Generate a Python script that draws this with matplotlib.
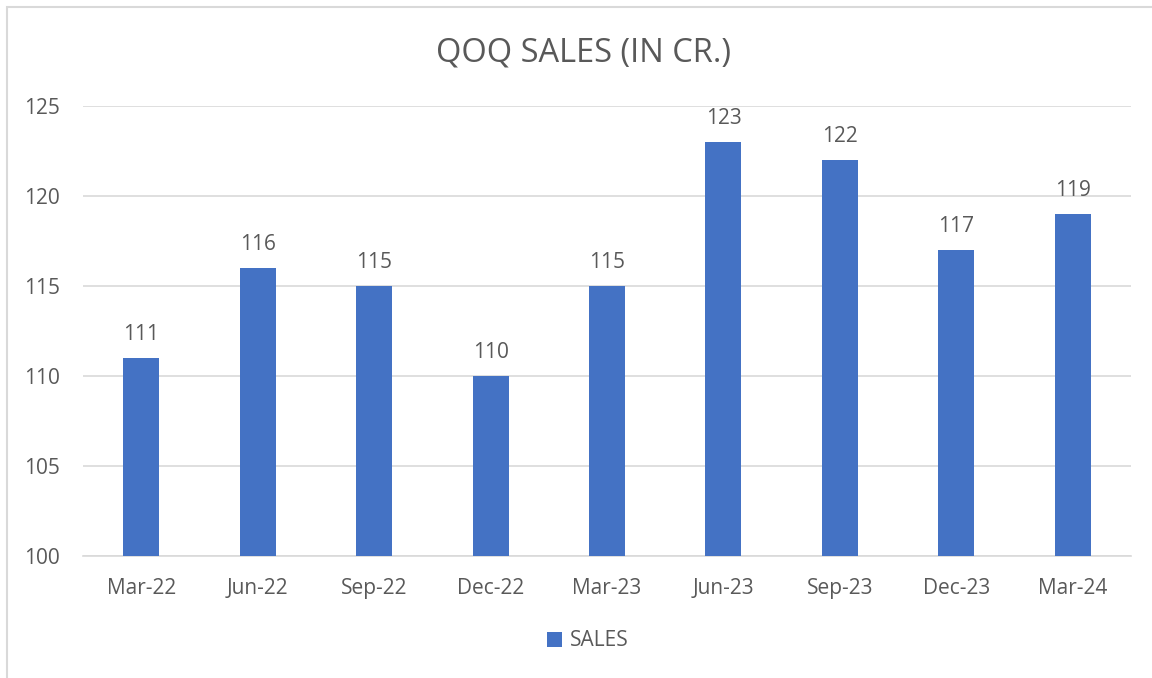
import matplotlib
matplotlib.use("Agg")
import matplotlib.pyplot as plt
from matplotlib.patches import Rectangle, Patch

categories = ["Mar-22", "Jun-22", "Sep-22", "Dec-22", "Mar-23", "Jun-23", "Sep-23", "Dec-23", "Mar-24"]
sales = [111, 116, 115, 110, 115, 123, 122, 117, 119]
yticks = [100, 105, 110, 115, 120, 125]

plt.rcParams['font.family'] = ['Open Sans', 'DejaVu Sans']
txt = '#595959'
bar_color = '#4472C4'
grid = '#D9D9D9'
fs = 15

fig = plt.figure(figsize=(11.52, 6.78), dpi=100)
ax = fig.add_axes([83/1152, 1-556/678, (1131-83)/1152, (556-106)/678])

x = list(range(len(categories)))
bars = ax.bar(x, sales, width=0.31, color=bar_color, zorder=3)
for xi, v in zip(x, sales):
    ax.annotate(f"{v}", (xi, v), xytext=(0, 13), textcoords='offset points',
                ha='center', va='baseline', fontsize=fs, color=txt)

ax.set_ylim(100, 125)
ax.set_xlim(-0.5, len(categories) - 0.5)
ax.set_yticks(yticks)
ax.set_xticks(x)
ax.set_xticklabels(categories)
ax.tick_params(axis='both', length=0, labelsize=fs, colors=txt)
ax.tick_params(axis='x', pad=16)
ax.tick_params(axis='y', pad=16.5)
ax.grid(axis='y', color=grid, linewidth=1.2, zorder=0)
for s in ['top', 'right', 'left']:
    ax.spines[s].set_visible(False)
ax.spines['bottom'].set_color(grid)
ax.spines['bottom'].set_linewidth(1.2)

fig.text(583/1152, 1-53/678, "QOQ SALES (IN CR.)", ha='center', va='center', fontsize=23.5, color=txt)

handle = Patch(facecolor=bar_color, edgecolor='none')
fig.legend([handle], ["SALES"], loc='center', bbox_to_anchor=(588/1152, 1-641/678),
           frameon=False, fontsize=fs, labelcolor=txt, handlelength=0.7, handleheight=0.7,
           handletextpad=0.4)

fig.patches.append(Rectangle((7/1152, -0.05), 1.1, 1-7/678+0.05, transform=fig.transFigure,
                             fill=False, edgecolor=grid, linewidth=1.5))

fig.savefig("out.png", dpi=100)
